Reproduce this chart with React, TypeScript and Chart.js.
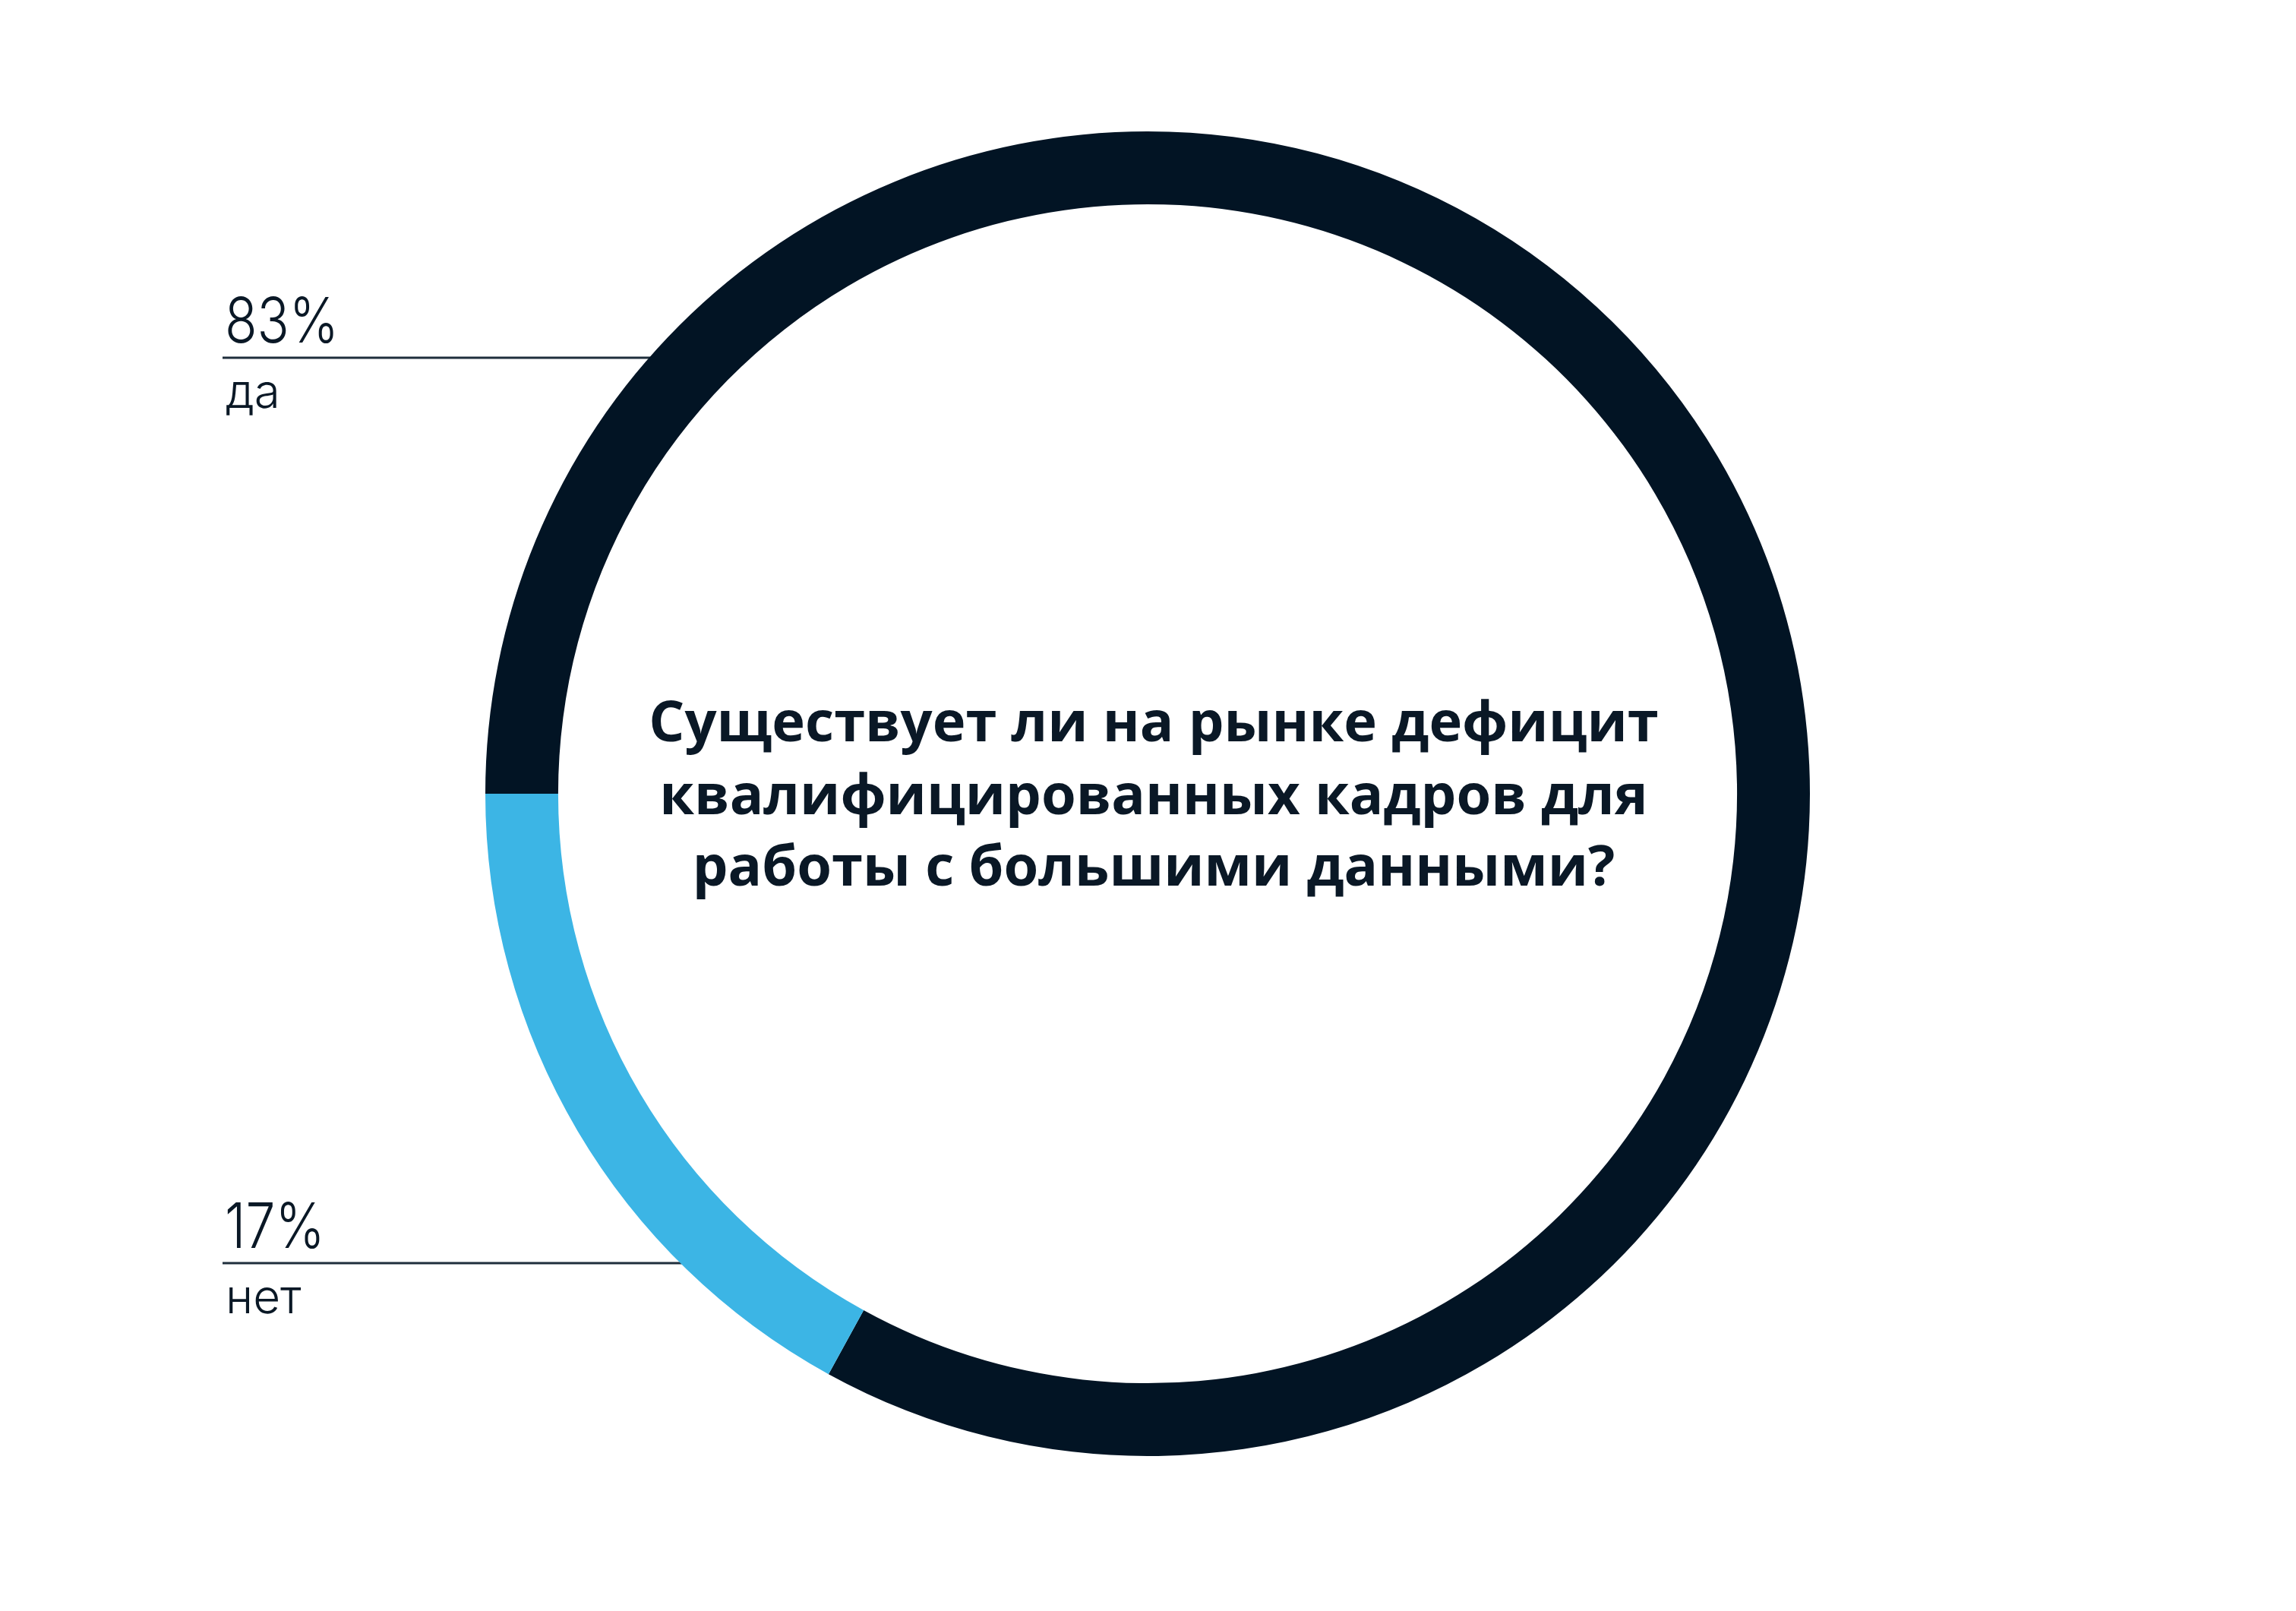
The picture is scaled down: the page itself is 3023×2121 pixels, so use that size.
import React, { useEffect, useRef } from "react";
import { Chart, registerables } from "chart.js";

Chart.register(...registerables);

// ---- data ----
const categories: string[] = ["да", "нет"];
const values: number[] = [83, 17];
const valueLabels: string[] = ["83%", "17%"];
const titleLines: string[] = [
  "Существует ли на рынке дефицит",
  "квалифицированных кадров для",
  "работы с большими данными?",
];

// ---- styles ----
const SEGMENT_COLORS = ["#021424", "#3cb5e5"];
const TEXT_COLOR = "#0a1826";
const LEADER_COLOR = "#1f2e3c";
const LABEL_LINE_DY = [-574, 618]; // leader line offsets from ring centre
const LABEL_LEFT = 293;
const TITLE_BASE_DY = [-69, 27, 121];
const TITLE_DX = 8;
const VALUE_SCALE_X = 0.84;

const overlayPlugin = {
  id: "overlay",
  beforeDatasetsDraw(chart: any) {
    const meta = chart.getDatasetMeta(0);
    const arc = meta.data[0];
    if (!arc) return;
    const { x: cx, y: cy, outerRadius: R } = arc.getProps(["x", "y", "outerRadius"], true);
    const ctx = chart.ctx as CanvasRenderingContext2D;
    ctx.save();
    categories.forEach((cat, i) => {
      const ly = cy + LABEL_LINE_DY[i];
      const dy = ly - cy;
      const xEnd = cx - Math.sqrt(Math.max(R * R - dy * dy, 0));
      ctx.strokeStyle = LEADER_COLOR;
      ctx.lineWidth = 3;
      ctx.beginPath();
      ctx.moveTo(LABEL_LEFT, ly);
      ctx.lineTo(xEnd + 2, ly);
      ctx.stroke();

      ctx.fillStyle = TEXT_COLOR;
      ctx.textAlign = "left";
      ctx.textBaseline = "alphabetic";
      ctx.save();
      ctx.translate(LABEL_LEFT + 3, ly - 20);
      ctx.scale(VALUE_SCALE_X, 1);
      ctx.font = '300 83px Inter, "DejaVu Sans", sans-serif';
      ctx.fillText(valueLabels[i], 0, 0);
      ctx.restore();
      ctx.font = '300 62px Inter, "DejaVu Sans", sans-serif';
      ctx.fillText(cat, LABEL_LEFT + 4, ly + 66);
    });
    ctx.restore();
  },
  afterDraw(chart: any) {
    const meta = chart.getDatasetMeta(0);
    const arc = meta.data[0];
    if (!arc) return;
    const { x: cx, y: cy } = arc.getProps(["x", "y"], true);
    const ctx = chart.ctx as CanvasRenderingContext2D;
    ctx.save();
    ctx.fillStyle = TEXT_COLOR;
    ctx.textAlign = "center";
    ctx.textBaseline = "alphabetic";
    ctx.font = '700 74px "Open Sans", "DejaVu Sans", sans-serif';
    titleLines.forEach((line, i) => {
      ctx.fillText(line, cx + TITLE_DX, cy + TITLE_BASE_DY[i]);
    });
    ctx.restore();
  },
};

export default function App() {
  const canvasRef = useRef<HTMLCanvasElement | null>(null);

  useEffect(() => {
    if (!canvasRef.current) return;
    const chart = new Chart(canvasRef.current, {
      type: "doughnut",
      data: {
        labels: categories,
        datasets: [
          {
            data: values,
            backgroundColor: SEGMENT_COLORS,
            borderWidth: 0,
            hoverOffset: 0,
          },
        ],
      },
      options: {
        animation: false,
        responsive: true,
        maintainAspectRatio: false,
        rotation: 270,
        cutout: "89%",
        layout: { padding: { left: 639, right: 640, top: 173, bottom: 204 } },
        plugins: {
          legend: { display: false },
          tooltip: { enabled: false },
          title: { display: false },
        },
      },
      plugins: [overlayPlugin],
    });
    return () => chart.destroy();
  }, []);

  return (
    <div
      style={{
        position: "absolute",
        left: 0,
        top: 0,
        width: "3023px",
        height: "2121px",
        background: "#ffffff",
      }}
    >
      <canvas ref={canvasRef} />
    </div>
  );
}
